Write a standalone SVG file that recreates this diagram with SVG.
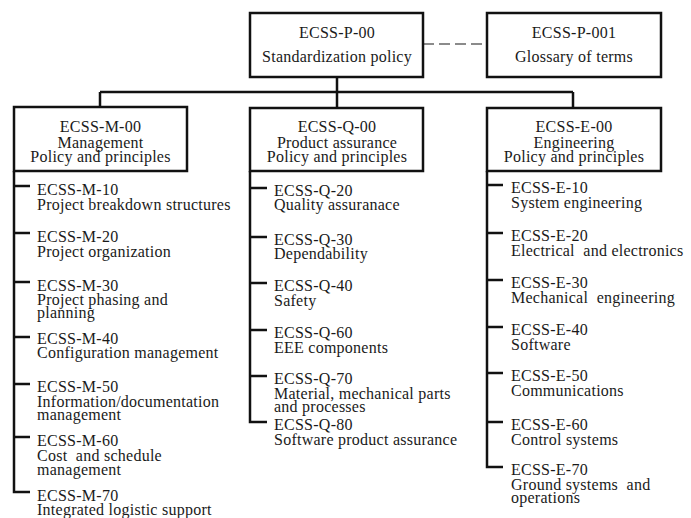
<svg xmlns="http://www.w3.org/2000/svg" width="691" height="518" viewBox="0 0 691 518">
<style>
text{font-family:"Liberation Serif","Times New Roman",serif;font-size:16px;fill:#1a1a1a;letter-spacing:0.25px;white-space:pre}
.c{text-anchor:middle}
.box{fill:#fff;stroke:#111;stroke-width:2.5}
.ln{fill:none;stroke:#111;stroke-width:2.5}
.dash{fill:none;stroke:#666;stroke-width:1.6;stroke-dasharray:11 5}
</style>
<rect width="691" height="518" fill="#fff"/>
<g id="connectors">
<path class="dash" d="M423 44H487"/>
<path class="ln" d="M337 77V92M100 92H573M100 92V107M337 92V108M573 92V108"/>
<path class="ln" d="M14 171V492H30M14 186H30M14 233H30M14 282H30M14 337H30M14 384H30M14 437H30"/>
<path class="ln" d="M250 171V422H267M250 188H267M250 237H267M250 283H267M250 330H267M250 376H267"/>
<path class="ln" d="M487 171V467H503M487 185H503M487 233H503M487 280H503M487 327H503M487 373H503M487 422H503"/>
</g>
<g id="P-00"><rect class="box" x="250" y="13" width="173" height="64"/><text class="c" x="337" y="38">ECSS-P-00</text><text class="c" x="337" y="62">Standardization policy</text></g>
<g id="P-001"><rect class="box" x="487" y="13" width="174" height="64"/><text class="c" x="574" y="38">ECSS-P-001</text><text class="c" x="574" y="62">Glossary of terms</text></g>
<g id="M-00"><rect class="box" x="14" y="107" width="173" height="64"/><text class="c" x="100.5" y="132">ECSS-M-00</text><text class="c" x="100.5" y="147.5">Management</text><text class="c" x="100.5" y="162">Policy and principles</text></g>
<g id="Q-00"><rect class="box" x="250" y="108" width="173" height="63"/><text class="c" x="337" y="132">ECSS-Q-00</text><text class="c" x="337" y="147.5">Product assurance</text><text class="c" x="337" y="162">Policy and principles</text></g>
<g id="E-00"><rect class="box" x="487" y="108" width="174" height="63"/><text class="c" x="574" y="132">ECSS-E-00</text><text class="c" x="574" y="147.5">Engineering</text><text class="c" x="574" y="162">Policy and principles</text></g>
<g id="M-10"><text x="37" y="195">ECSS-M-10</text><text x="37" y="209.5">Project breakdown structures</text></g>
<g id="M-20"><text x="37" y="242">ECSS-M-20</text><text x="37" y="256.5">Project organization</text></g>
<g id="M-30"><text x="37" y="290.5">ECSS-M-30</text><text x="37" y="305">Project phasing and</text><text x="37" y="318">planning</text></g>
<g id="M-40"><text x="37" y="344">ECSS-M-40</text><text x="37" y="358">Configuration management</text></g>
<g id="M-50"><text x="37" y="392">ECSS-M-50</text><text x="37" y="406.5">Information/documentation</text><text x="37" y="420">management</text></g>
<g id="M-60"><text x="37" y="445.5">ECSS-M-60</text><text x="37" y="460.5">Cost  and schedule</text><text x="37" y="475">management</text></g>
<g id="M-70"><text x="37" y="500.5">ECSS-M-70</text><text x="37" y="515">Integrated logistic support</text></g>
<g id="Q-20"><text x="274" y="195.5">ECSS-Q-20</text><text x="274" y="209.5">Quality assuranace</text></g>
<g id="Q-30"><text x="274" y="244.5">ECSS-Q-30</text><text x="274" y="259">Dependability</text></g>
<g id="Q-40"><text x="274" y="291">ECSS-Q-40</text><text x="274" y="305.5">Safety</text></g>
<g id="Q-60"><text x="274" y="338">ECSS-Q-60</text><text x="274" y="352.5">EEE components</text></g>
<g id="Q-70"><text x="274" y="384">ECSS-Q-70</text><text x="274" y="398.5">Material, mechanical parts</text><text x="274" y="412">and processes</text></g>
<g id="Q-80"><text x="274" y="430">ECSS-Q-80</text><text x="274" y="444.5">Software product assurance</text></g>
<g id="E-10"><text x="511" y="193">ECSS-E-10</text><text x="511" y="207.5">System engineering</text></g>
<g id="E-20"><text x="511" y="241">ECSS-E-20</text><text x="511" y="255.5">Electrical  and electronics</text></g>
<g id="E-30"><text x="511" y="288">ECSS-E-30</text><text x="511" y="302.5">Mechanical  engineering</text></g>
<g id="E-40"><text x="511" y="335">ECSS-E-40</text><text x="511" y="349.5">Software</text></g>
<g id="E-50"><text x="511" y="381">ECSS-E-50</text><text x="511" y="395.5">Communications</text></g>
<g id="E-60"><text x="511" y="430">ECSS-E-60</text><text x="511" y="444.5">Control systems</text></g>
<g id="E-70"><text x="511" y="475">ECSS-E-70</text><text x="511" y="489.5">Ground systems  and</text><text x="511" y="503">operations</text></g>
</svg>
